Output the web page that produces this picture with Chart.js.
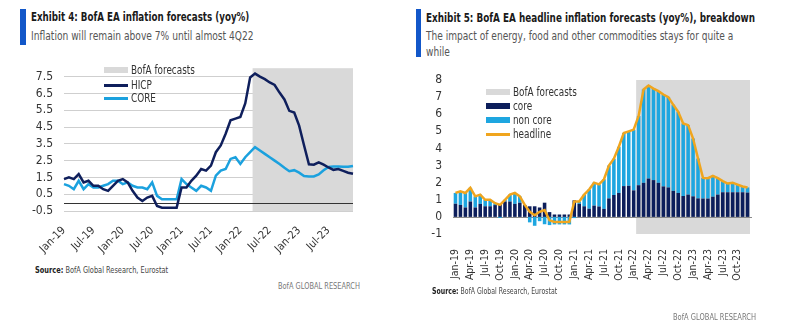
<!DOCTYPE html>
<html>
<head>
<meta charset="utf-8">
<script src="https://cdn.jsdelivr.net/npm/chart.js@4/dist/chart.umd.min.js"></script>
<style>
  html, body { margin: 0; padding: 0; background: #fff; }
  #page { position: relative; width: 787px; height: 322px; overflow: hidden;
          font-family: "Liberation Sans Narrow", "DejaVu Sans Condensed", sans-serif; color: #333; }
  .abs { position: absolute; white-space: nowrap; display: inline-block; transform-origin: 0 50%; }
  .flag { position: absolute; background: #1257c9; width: 6px; }
  .title { font-weight: bold; color: #1a1a1a; }
  .sub { color: #555; }
  .src { color: #444; font-size: 9px; }
  .src b { color: #222; }
  .brand { color: #777; font-size: 9px; }
  .lg { font-size: 12px; line-height: 14px; color: #333; transform: scaleX(0.82); }
  .sw { position: absolute; width: 24px; }
  canvas { position: absolute; }
</style>
</head>
<body>
<div id="page">
  <!-- Exhibit 4 -->
  <div class="flag" style="left:20px; top:9px; height:36px;"></div>
  <div class="abs title" data-w="218" style="left:31px; top:10px; font-size:12px;">Exhibit 4: BofA EA inflation forecasts (yoy%)</div>
  <div class="abs sub" data-w="223" style="left:31px; top:29px; font-size:12px;">Inflation will remain above 7% until almost 4Q22</div>
  <canvas id="chart4" width="380" height="210" style="left:0; top:50px;"></canvas>
  <div class="sw" style="left:104px; top:67px; height:6px; background:#d9d9d9;"></div>
  <div class="abs lg" style="left:131px; top:63px;">BofA forecasts</div>
  <div class="sw" style="left:104px; top:84px; height:3px; background:#0f1f5c;"></div>
  <div class="abs lg" style="left:131px; top:78px;">HICP</div>
  <div class="sw" style="left:104px; top:97px; height:3px; background:#1ba1de;"></div>
  <div class="abs lg" style="left:131px; top:91px;">CORE</div>
  <div class="abs src" data-w="133" style="left:35px; top:265px;"><b>Source:</b> BofA Global Research, Eurostat</div>
  <div class="abs brand" data-w="82" style="left:278px; top:281px;">BofA GLOBAL RESEARCH</div>

  <!-- Exhibit 5 -->
  <div class="flag" style="left:416px; top:9px; height:48px; width:5px;"></div>
  <div class="abs title" data-w="329" style="left:426px; top:11px; font-size:12px;">Exhibit 5: BofA EA headline inflation forecasts (yoy%), breakdown</div>
  <div class="abs sub" data-w="307" style="left:426px; top:28px; font-size:12px; line-height:16px;">The impact of energy, food and other commodities stays for quite a<br>while</div>
  <canvas id="chart5" width="387" height="232" style="left:400px; top:60px;"></canvas>
  <div class="sw" style="left:486px; top:89px; height:6px; background:#d9d9d9;"></div>
  <div class="abs lg" style="left:513px; top:85px;">BofA forecasts</div>
  <div class="sw" style="left:486px; top:103px; height:6px; background:#0c1e5b;"></div>
  <div class="abs lg" style="left:513px; top:99px;">core</div>
  <div class="sw" style="left:486px; top:117px; height:6px; background:#1ea6e0;"></div>
  <div class="abs lg" style="left:513px; top:113px;">non core</div>
  <div class="sw" style="left:486px; top:133px; height:3px; background:#f0a51e;"></div>
  <div class="abs lg" style="left:513px; top:127px;">headline</div>
  <div class="abs src" data-w="125" style="left:432px; top:286px;"><b>Source:</b> BofA Global Research, Eurostat</div>
  <div class="abs brand" data-w="83" style="left:673px; top:312px;">BofA GLOBAL RESEARCH</div>
</div>

<script>
// monthly labels Jan-19 .. Dec-23
const MONTHS = ['Jan', 'Feb', 'Mar', 'Apr', 'May', 'Jun', 'Jul', 'Aug', 'Sep', 'Oct', 'Nov', 'Dec'];
const YEARS = ['19', '20', '21', '22', '23'];
const months = [];
YEARS.forEach(y => MONTHS.forEach(m => months.push(`${m}-${y}`)));

// headline HICP, yoy %
const hicp = [
  1.4, 1.5, 1.4, 1.7, 1.2, 1.3, 1.0, 1.0, 0.8, 0.7, 1.0, 1.3,
  1.4, 1.2, 0.7, 0.3, 0.1, 0.3, 0.4, -0.2, -0.3, -0.3, -0.3, -0.3,
  0.9, 0.9, 1.3, 1.6, 2.0, 1.9, 2.2, 3.0, 3.4, 4.1, 4.9, 5.0,
  5.1, 5.9, 7.45, 7.68, 7.5, 7.35, 7.15, 7.0, 6.55, 6.14, 5.46, 5.36,
  4.58, 3.41, 2.28, 2.26, 2.4, 2.26, 2.09, 1.95, 2.0, 1.89, 1.78, 1.72,
];
// core inflation, yoy %
const core = [
  1.1, 1.0, 0.8, 1.3, 0.8, 1.1, 0.9, 0.9, 1.0, 1.1, 1.3, 1.3,
  1.1, 1.2, 1.0, 0.9, 0.9, 0.8, 1.2, 0.4, 0.2, 0.2, 0.2, 0.2,
  1.4, 1.1, 0.9, 0.7, 1.0, 0.9, 0.7, 1.6, 1.9, 2.0, 2.6, 2.7,
  2.3, 2.7, 3.0, 3.3, 3.1, 2.9, 2.7, 2.5, 2.3, 2.07, 1.87, 1.93,
  1.78, 1.58, 1.56, 1.56, 1.68, 1.92, 2.12, 2.15, 2.15, 2.13, 2.13, 2.18,
];
// contributions to headline, pp
const coreContrib = [
  0.77, 0.70, 0.55, 0.90, 0.55, 0.76, 0.62, 0.62, 0.69, 0.76, 0.90, 0.90,
  0.76, 0.83, 0.69, 0.62, 0.62, 0.55, 0.83, 0.28, 0.14, 0.14, 0.14, 0.14,
  0.97, 0.76, 0.62, 0.48, 0.66, 0.61, 0.47, 1.08, 1.28, 1.40, 1.80, 1.82,
  1.55, 1.85, 1.99, 2.24, 2.15, 1.99, 1.78, 1.72, 1.52, 1.40, 1.22, 1.30,
  1.20, 1.08, 1.07, 1.07, 1.18, 1.30, 1.44, 1.44, 1.44, 1.44, 1.44, 1.42,
];
const nonCoreContrib = [
  0.63, 0.80, 0.85, 0.80, 0.65, 0.54, 0.38, 0.38, 0.11, -0.06, 0.10, 0.40,
  0.64, 0.37, 0.01, -0.32, -0.52, -0.25, -0.43, -0.48, -0.44, -0.44, -0.44, -0.44,
  -0.07, 0.14, 0.68, 1.12, 1.34, 1.29, 1.73, 1.92, 2.12, 2.70, 3.10, 3.18,
  3.55, 4.05, 5.46, 5.44, 5.35, 5.36, 5.37, 5.28, 5.03, 4.74, 4.24, 4.06,
  3.38, 2.33, 1.21, 1.19, 1.22, 0.96, 0.65, 0.51, 0.56, 0.45, 0.34, 0.30,
];

const ticks4 = [-0.5, 0.5, 1.5, 2.5, 3.5, 4.5, 5.5, 6.5, 7.5];
const ticks5 = [-1, 0, 1, 2, 3, 4, 5, 6, 7, 8];
const forecastFrom4 = 'Apr-22';
const forecastFrom5 = 'Feb-22';

const NAVY = '#0f1f5c';
const LIGHT = '#1ba1de';
const ORANGE = '#f0a51e';
const SHADE = '#d9d9d9';

// squeeze the html texts to the reference widths (narrow font is not installed)
document.querySelectorAll('[data-w]').forEach(el => {
  const k = +el.dataset.w / el.offsetWidth;
  el.style.transform = `scaleX(${k})`;
});

Chart.defaults.font.family = '"Liberation Sans Narrow", "DejaVu Sans Condensed", sans-serif';
Chart.defaults.color = '#333';

// grey forecast block + zero line, drawn under the datasets
const forecastShade = {
  id: 'forecastShade',
  beforeDatasetsDraw(chart, args, opts) {
    const { ctx, chartArea, scales } = chart;
    const x0 = scales.x.getPixelForValue(chart.data.labels.indexOf(opts.from) - 0.5);
    ctx.save();
    ctx.fillStyle = SHADE;
    ctx.fillRect(x0, chartArea.top, chartArea.right - x0, chartArea.bottom - chartArea.top);
    const y0 = scales.y.getPixelForValue(0);
    ctx.strokeStyle = opts.zeroColor;
    ctx.lineWidth = 1;
    ctx.beginPath();
    ctx.moveTo(chartArea.left, Math.round(y0) + 0.5);
    ctx.lineTo(chartArea.right + (opts.extend || 0), Math.round(y0) + 0.5);
    ctx.stroke();
    ctx.restore();
  }
};

new Chart(document.getElementById('chart4'), {
  type: 'line',
  data: {
    labels: months,
    datasets: [
      { label: 'HICP', data: hicp, borderColor: NAVY, borderWidth: 2.5, pointRadius: 0, tension: 0 },
      { label: 'CORE', data: core, borderColor: LIGHT, borderWidth: 2.5, pointRadius: 0, tension: 0 },
    ],
  },
  options: {
    responsive: false,
    animation: false,
    layout: { padding: { left: 0, right: 27, top: 14, bottom: 0 } },
    plugins: {
      legend: { display: false },
      tooltip: { enabled: false },
      forecastShade: { from: forecastFrom4, zeroColor: '#333' },
    },
    scales: {
      x: {
        grid: { display: false },
        border: { display: false },
        afterFit(s) { s.height = 49; },
        ticks: {
          autoSkip: false, minRotation: 45, maxRotation: 45, padding: 5,
          font: { size: 11 }, color: '#333',
          callback(v, i) { return i % 6 === 0 ? this.getLabelForValue(v) : ''; },
        },
      },
      y: {
        min: -0.5, max: 8,
        afterBuildTicks(s) { s.ticks = ticks4.map(v => ({ value: v })); },
        afterFit(s) { s.width = 64; },
        grid: { color: '#cfcfcf', drawTicks: false },
        border: { display: false },
        ticks: { autoSkip: false, padding: 11, font: { size: 12 }, color: '#333', callback: v => v.toFixed(1) },
      },
    },
  },
  plugins: [forecastShade],
});

new Chart(document.getElementById('chart5'), {
  type: 'bar',
  data: {
    labels: months,
    datasets: [
      { type: 'line', label: 'headline', data: hicp, borderColor: ORANGE, borderWidth: 2.5,
        pointRadius: 0, tension: 0, stack: 'headline', order: 0 },
      { label: 'core', data: coreContrib, backgroundColor: '#0c1e5b', stack: 'bars', order: 1,
        barPercentage: 0.72, categoryPercentage: 1 },
      { label: 'non core', data: nonCoreContrib, backgroundColor: '#1ea6e0', stack: 'bars', order: 2,
        barPercentage: 0.72, categoryPercentage: 1 },
    ],
  },
  options: {
    responsive: false,
    animation: false,
    layout: { padding: { left: 0, right: 37, top: 20, bottom: 0 } },
    plugins: {
      legend: { display: false },
      tooltip: { enabled: false },
      forecastShade: { from: forecastFrom5, zeroColor: '#8a8a8a', extend: 2 },
    },
    scales: {
      x: {
        stacked: true,
        grid: { display: false },
        border: { display: false },
        afterFit(s) { s.height = 58; },
        ticks: {
          autoSkip: false, minRotation: 90, maxRotation: 90, padding: 7,
          font: { size: 10.5 }, color: '#333',
          callback(v, i) { return i % 3 === 0 ? this.getLabelForValue(v) : ''; },
        },
      },
      y: {
        stacked: true,
        min: -1, max: 8,
        afterBuildTicks(s) { s.ticks = ticks5.map(v => ({ value: v })); },
        afterFit(s) { s.width = 53; },
        grid: { display: false, drawTicks: false },
        border: { display: false },
        ticks: { autoSkip: false, padding: 11, font: { size: 12 }, color: '#333' },
      },
    },
  },
  plugins: [forecastShade],
});
</script>
</body>
</html>
